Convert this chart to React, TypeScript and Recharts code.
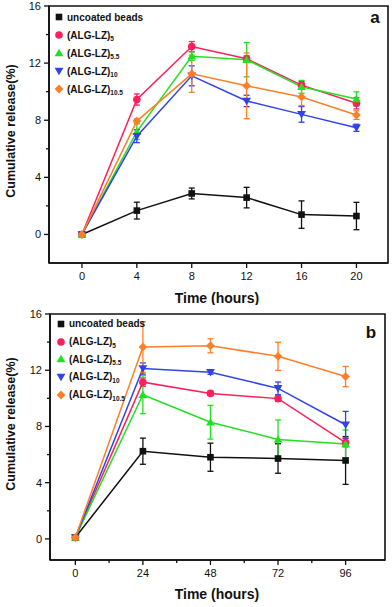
import { LineChart, Line, XAxis, YAxis, ErrorBar, Legend, Label, ReferenceArea } from 'recharts'

// panel a: release over the first 20 hours
const hoursA = [0, 4, 8, 12, 16, 20]
const uncoatedA = [0, 1.67, 2.87, 2.58, 1.39, 1.29]
const uncoatedErrA = [0, 0.59, 0.38, 0.72, 0.96, 0.96]
const alg5A = [0, 9.45, 13.16, 12.3, 10.46, 9.19]
const alg5ErrA = [0, 0.39, 0.35, 0.2, 0.25, 0.4]
const alg55A = [0, 7.2, 12.48, 12.24, 10.34, 9.49]
const alg55ErrA = [0, 0.55, 0.3, 1.2, 0.45, 0.5]
const alg10A = [0, 6.88, 11.11, 9.35, 8.41, 7.47]
const alg10ErrA = [0, 0.45, 0.7, 0.4, 0.55, 0.25]
const alg105A = [0, 7.94, 11.25, 10.41, 9.63, 8.36]
const alg105ErrA = [0, 0.15, 1.3, 2.3, 0.6, 0.3]

// panel b: release over 96 hours
const hoursB = [0, 24, 48, 72, 96]
const uncoatedB = [0.1, 6.24, 5.81, 5.72, 5.58]
const uncoatedErrB = [0, 0.93, 1.0, 1.05, 1.7]
const alg5B = [0.1, 11.15, 10.35, 9.98, 6.85]
const alg5ErrB = [0, 0.3, 0.15, 0.2, 0.3]
const alg55B = [0.1, 10.26, 8.3, 7.08, 6.75]
const alg55ErrB = [0, 1.35, 1.2, 1.38, 1.0]
const alg10B = [0.1, 12.12, 11.86, 10.71, 8.12]
const alg10ErrB = [0, 0.4, 0.15, 0.45, 0.95]
const alg105B = [0.1, 13.65, 13.74, 12.99, 11.55]
const alg105ErrB = [0, 1.8, 0.5, 1.0, 0.72]

const seriesNames = ['uncoated beads', '(ALG-LZ)', '(ALG-LZ)', '(ALG-LZ)', '(ALG-LZ)']
const seriesSubs = ['', '5', '5.5', '10', '10.5']
const seriesColors = ['#111111', '#ff1f5a', '#22e022', '#3142ea', '#ff7f27']
const seriesShapes = ['square', 'circle', 'up', 'down', 'diamond']

const yTicks = [0, 2, 4, 6, 8, 10, 12, 14, 16]
const yMajor = [0, 4, 8, 12, 16]
const xTicksA = [0, 4, 8, 12, 16, 20]
const xTicksB = [0, 12, 24, 36, 48, 60, 72, 84, 96]
const xMajorB = [0, 24, 48, 72, 96]

const FONT = 'Arial, "Liberation Sans", sans-serif'
const INK = '#111111'

function buildRows(hours: number[], vals: number[][], errs: number[][]) {
  return hours.map((h, i) => {
    const row: Record<string, number> = { h }
    vals.forEach((v, s) => {
      row[`s${s}`] = v[i]
      row[`e${s}`] = errs[s][i]
    })
    return row
  })
}

const dataA = buildRows(
  hoursA,
  [uncoatedA, alg5A, alg55A, alg10A, alg105A],
  [uncoatedErrA, alg5ErrA, alg55ErrA, alg10ErrA, alg105ErrA],
)
const dataB = buildRows(
  hoursB,
  [uncoatedB, alg5B, alg55B, alg10B, alg105B],
  [uncoatedErrB, alg5ErrB, alg55ErrB, alg10ErrB, alg105ErrB],
)

function Marker({ cx, cy, shape, color }: { cx: number; cy: number; shape: string; color: string }) {
  if (cx == null || cy == null) return null
  if (shape === 'square') return <rect x={cx - 3.3} y={cy - 3.3} width={6.6} height={6.6} fill={color} />
  if (shape === 'circle') return <circle cx={cx} cy={cy} r={3.8} fill={color} />
  if (shape === 'up')
    return <polygon points={`${cx},${cy - 4.2} ${cx + 4.4},${cy + 3.3} ${cx - 4.4},${cy + 3.3}`} fill={color} />
  if (shape === 'down')
    return <polygon points={`${cx},${cy + 4.2} ${cx + 4.4},${cy - 3.3} ${cx - 4.4},${cy - 3.3}`} fill={color} />
  return <polygon points={`${cx},${cy - 4.4} ${cx + 4.4},${cy} ${cx},${cy + 4.4} ${cx - 4.4},${cy}`} fill={color} />
}

function LegendIcon({ shape, color }: { shape: string; color: string }) {
  return (
    <svg width={10} height={10} style={{ display: 'block' }}>
      <Marker cx={5} cy={5} shape={shape} color={color} />
    </svg>
  )
}

function LegendBox({ gap }: { gap: number }) {
  return (
    <div style={{ fontFamily: FONT, fontWeight: 700, fontSize: 10, color: INK }}>
      {seriesNames.map((name, i) => (
        <div key={i} style={{ display: 'flex', alignItems: 'center', height: gap, whiteSpace: 'nowrap' }}>
          <LegendIcon shape={seriesShapes[i]} color={seriesColors[i]} />
          <span style={{ marginLeft: 3 }}>
            {name}
            {seriesSubs[i] && <span style={{ fontSize: 6.5, position: 'relative', top: 2.5 }}>{seriesSubs[i]}</span>}
          </span>
        </div>
      ))}
    </div>
  )
}

function YTick(props: any) {
  const { x, y, payload } = props
  const major = yMajor.includes(payload.value)
  return (
    <g>
      <line x1={x} x2={x - (major ? 5 : 3)} y1={y} y2={y} stroke={INK} strokeWidth={1.3} />
      {major && (
        <text x={x - 8} y={y + 4} textAnchor="end" fontSize={11} fontFamily={FONT} fill={INK}>
          {payload.value}
        </text>
      )}
    </g>
  )
}

function XTick(props: any) {
  const { x, y, payload, majors } = props
  const major = majors.includes(payload.value)
  return (
    <g>
      <line x1={x} x2={x} y1={y} y2={y + (major ? 5 : 3)} stroke={INK} strokeWidth={1.3} />
      {major && (
        <text x={x} y={y + 17} textAnchor="middle" fontSize={11} fontFamily={FONT} fill={INK}>
          {payload.value}
        </text>
      )}
    </g>
  )
}

interface PanelProps {
  data: Record<string, number>[]
  height: number
  margin: { top: number; right: number; left: number; bottom: number }
  yWidth: number
  xHeight: number
  xDomain: [number, number]
  yDomain: [number, number]
  xTicks: number[]
  xMajor: number[]
  letter: string
  letterPos: [number, number]
  yTitleY: number
  xTitleY: number
  legendPos: { left: number; top: number; gap: number }
  errWidth: number
}

function Panel(p: PanelProps) {
  const axisLine = { stroke: INK, strokeWidth: 1.6 }
  return (
    <LineChart width={392} height={p.height} data={p.data} margin={p.margin}>
      <ReferenceArea
        x1={p.xDomain[0]}
        x2={p.xDomain[1]}
        y1={p.yDomain[0]}
        y2={p.yDomain[1]}
        fill="none"
        fillOpacity={0}
        stroke={INK}
        strokeWidth={1.6}
        ifOverflow="visible"
      />
      <XAxis
        dataKey="h"
        type="number"
        domain={p.xDomain}
        ticks={p.xTicks}
        interval={0}
        height={p.xHeight}
        tickSize={0}
        tickMargin={0}
        tickLine={false}
        axisLine={axisLine}
        tick={(t: any) => <XTick {...t} majors={p.xMajor} />}
      >
        <Label
          content={() => (
            <text x={217} y={p.xTitleY} textAnchor="middle" fontSize={14} fontWeight={700} fontFamily={FONT} fill={INK}>
              Time (hours)
            </text>
          )}
        />
      </XAxis>
      <YAxis
        type="number"
        domain={p.yDomain}
        ticks={yTicks}
        interval={0}
        width={p.yWidth}
        tickSize={0}
        tickMargin={0}
        tickLine={false}
        axisLine={axisLine}
        tick={(t: any) => <YTick {...t} />}
      >
        <Label
          content={() => (
            <text
              x={15}
              y={p.yTitleY}
              transform={`rotate(-90 15 ${p.yTitleY})`}
              textAnchor="middle"
              fontSize={12.5}
              fontWeight={700}
              fontFamily={FONT}
              fill={INK}
            >
              Cumulative release(%)
            </text>
          )}
        />
      </YAxis>
      {seriesColors.map((color, s) => (
        <Line
          key={s}
          dataKey={`s${s}`}
          stroke={color}
          strokeWidth={1.5}
          isAnimationActive={false}
          dot={(d: any) => <Marker key={`${s}-${d.index}`} cx={d.cx} cy={d.cy} shape={seriesShapes[s]} color={color} />}
          activeDot={false}
        >
          <ErrorBar dataKey={`e${s}`} direction="y" width={p.errWidth} stroke={color} strokeWidth={1.3} isAnimationActive={false} />
        </Line>
      ))}
      <Legend
        layout="vertical"
        align="center"
        verticalAlign="middle"
        wrapperStyle={{ left: p.legendPos.left, top: p.legendPos.top, width: 'auto', height: 'auto' }}
        content={() => <LegendBox gap={p.legendPos.gap} />}
      />
      <text x={p.letterPos[0]} y={p.letterPos[1]} textAnchor="middle" fontSize={17} fontWeight={700} fontFamily={FONT} fill={INK}>
        {p.letter}
      </text>
    </LineChart>
  )
}

export default function App() {
  return (
    <div style={{ position: 'absolute', left: 0, top: 0, width: 392, height: 607, background: '#fff' }}>
      <Panel
        data={dataA}
        height={305}
        margin={{ top: 6, right: 4, left: 0, bottom: 0 }}
        yWidth={49}
        xHeight={42}
        xDomain={[-2.4, 22.3]}
        yDomain={[-2, 16]}
        xTicks={xTicksA}
        xMajor={xTicksA}
        letter="a"
        letterPos={[375, 23]}
        yTitleY={131}
        xTitleY={303}
        legendPos={{ left: 54, top: 8, gap: 18 }}
        errWidth={3}
      />
      <Panel
        data={dataB}
        height={302}
        margin={{ top: 9, right: 7, left: 0, bottom: 0 }}
        yWidth={50}
        xHeight={47}
        xDomain={[-9, 110]}
        yDomain={[-1.5, 16]}
        xTicks={xTicksB}
        xMajor={xMajorB}
        letter="b"
        letterPos={[371, 33]}
        yTitleY={119}
        xTitleY={294}
        legendPos={{ left: 56, top: 10, gap: 17.7 }}
        errWidth={3}
      />
    </div>
  )
}
